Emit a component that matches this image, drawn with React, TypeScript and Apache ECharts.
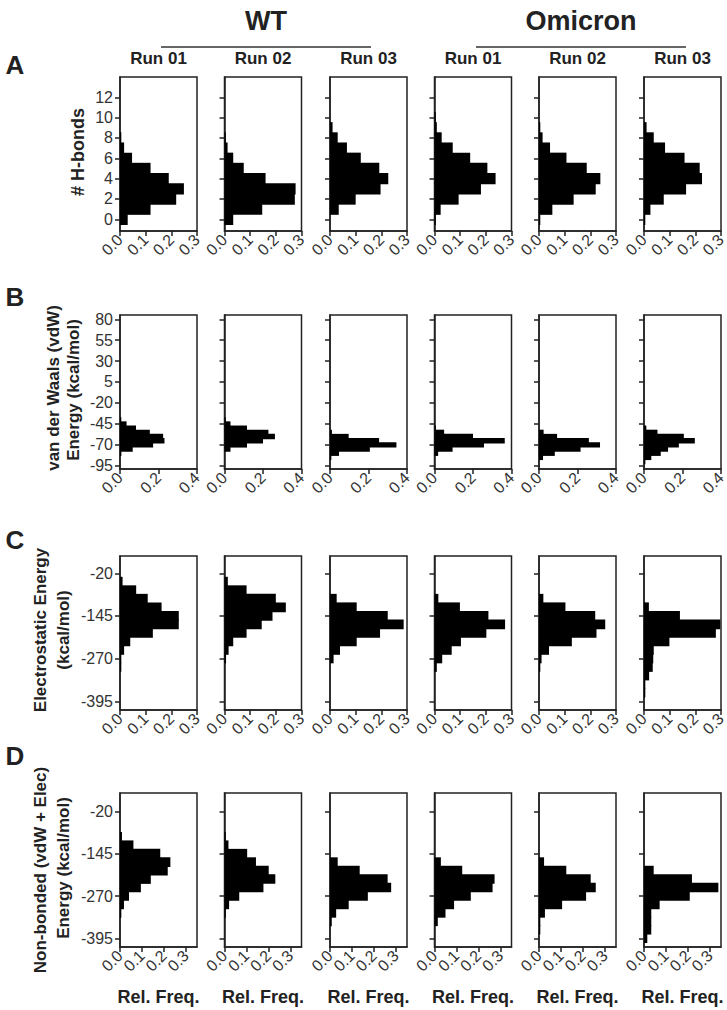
import React, { useEffect, useRef } from "react";
import * as echarts from "echarts";

// ---------- labels ----------
const GROUPS = ["WT", "Omicron"];
const RUNS = ["Run 01", "Run 02", "Run 03", "Run 01", "Run 02", "Run 03"];
const ROW_LETTERS = ["A", "B", "C", "D"];
const X_NAME = "Rel. Freq.";

// ---------- Row A: # H-bonds ----------
const HB_BINS = [0, 1, 2, 3, 4, 5, 6, 7, 8, 9, 10];
const HB_TICKS = [0, 2, 4, 6, 8, 10, 12];
const HB_WT1 = [0.030, 0.119, 0.219, 0.249, 0.190, 0.119, 0.047, 0.016, 0.003, 0, 0];
const HB_WT2 = [0.034, 0.147, 0.274, 0.277, 0.160, 0.075, 0.034, 0.012, 0.004, 0, 0];
const HB_WT3 = [0, 0.034, 0.100, 0.197, 0.227, 0.192, 0.120, 0.066, 0.030, 0.010, 0];
const HB_OM1 = [0.005, 0.024, 0.094, 0.181, 0.238, 0.206, 0.139, 0.071, 0.028, 0.009, 0.003];
const HB_OM2 = [0.004, 0.052, 0.135, 0.221, 0.239, 0.186, 0.107, 0.043, 0.014, 0.005, 0];
const HB_OM3 = [0.004, 0.025, 0.077, 0.164, 0.226, 0.217, 0.158, 0.082, 0.038, 0.010, 0];

// ---------- Row B: vdW energy ----------
const VDW_BINS = [-90.5, -85.5, -80.5, -75.5, -70.5, -65.5, -60.5, -55.5, -50.5, -45.5, -40.5];
const VDW_TICKS = [-95, -70, -45, -20, 5, 30, 55, 80];
const VDW_WT1 = [0, 0, 0.007, 0.066, 0.172, 0.231, 0.224, 0.155, 0.083, 0.034, 0.005];
const VDW_WT2 = [0, 0, 0, 0.031, 0.117, 0.200, 0.262, 0.228, 0.117, 0.031, 0.005];
const VDW_WT3 = [0, 0.007, 0.047, 0.207, 0.345, 0.255, 0.097, 0.010, 0, 0, 0];
const VDW_OM1 = [0, 0, 0.019, 0.094, 0.257, 0.365, 0.200, 0.050, 0.007, 0, 0];
const VDW_OM2 = [0, 0.021, 0.082, 0.216, 0.317, 0.259, 0.094, 0.024, 0, 0, 0];
const VDW_OM3 = [0.007, 0.038, 0.087, 0.125, 0.181, 0.264, 0.207, 0.070, 0.012, 0, 0];

// ---------- Row C / D: energy bins ----------
const EN_BINS = [-394.5, -369.5, -344.5, -319.5, -294.5, -269.5, -244.5, -219.5, -194.5, -169.5, -144.5, -119.5, -94.5, -69.5, -44.5];
const EN_TICKS = [-395, -270, -145, -20];

const EL_WT1 = [0, 0, 0, 0, 0.003, 0.004, 0.016, 0.040, 0.128, 0.229, 0.229, 0.162, 0.108, 0.063, 0.010];
const EL_WT2 = [0, 0, 0, 0, 0, 0.006, 0.016, 0.034, 0.086, 0.145, 0.187, 0.239, 0.200, 0.086, 0.013];
const EL_WT3 = [0, 0, 0, 0, 0, 0.014, 0.039, 0.104, 0.195, 0.287, 0.225, 0.104, 0.026, 0, 0];
const EL_OM1 = [0, 0, 0, 0, 0.009, 0.030, 0.067, 0.103, 0.202, 0.275, 0.210, 0.099, 0.015, 0, 0];
const EL_OM2 = [0, 0, 0, 0, 0.004, 0.010, 0.039, 0.128, 0.224, 0.258, 0.219, 0.103, 0.017, 0, 0];
const EL_OM3 = [0, 0.004, 0.005, 0.020, 0.034, 0.036, 0.038, 0.099, 0.280, 0.297, 0.140, 0.019, 0, 0, 0];

const NB_WT1 = [0, 0, 0, 0.006, 0.018, 0.041, 0.095, 0.140, 0.217, 0.229, 0.183, 0.061, 0.009, 0, 0];
const NB_WT2 = [0, 0, 0, 0.005, 0.021, 0.067, 0.177, 0.231, 0.201, 0.143, 0.103, 0.018, 0.005, 0, 0];
const NB_WT3 = [0, 0, 0.008, 0.028, 0.085, 0.172, 0.278, 0.262, 0.135, 0.035, 0, 0, 0, 0, 0];
const NB_OM1 = [0, 0, 0.015, 0.050, 0.089, 0.165, 0.264, 0.273, 0.126, 0.029, 0, 0, 0, 0, 0];
const NB_OM2 = [0, 0.004, 0.006, 0.027, 0.105, 0.214, 0.258, 0.235, 0.124, 0.023, 0, 0, 0, 0, 0];
const NB_OM3 = [0.015, 0.033, 0.033, 0.033, 0.071, 0.208, 0.338, 0.218, 0.044, 0, 0, 0, 0, 0, 0];

// ---------- x tick values ----------
const X_TICKS_03 = [0, 0.1, 0.2, 0.3];
const X_TICKS_04 = [0, 0.2, 0.4];

// ---------- layout (not data) ----------
const W = 727;
const H = 1010;
const COL_LEFT = [120, 224.5, 330, 434.5, 539, 644];
const ROW_TOP = [77, 315, 556, 793];
const PW = 77;
const PH = 154;
const FONT = '"Liberation Sans", Arial, Helvetica, sans-serif';
const INK = "#222";

type RowCfg = {
  bins: number[];
  binW: number;
  panels: number[][];
  yMin: number;
  yMax: number;
  yTicks: number[];
  xMax: number;
  xTicks: number[];
  splitLabels?: boolean; // labels crowd: spread over two coincident axes
};

const ROWS: RowCfg[] = [
  { bins: HB_BINS, binW: 1, panels: [HB_WT1, HB_WT2, HB_WT3, HB_OM1, HB_OM2, HB_OM3], yMin: -1.15, yMax: 14, yTicks: HB_TICKS, xMax: 0.3, xTicks: X_TICKS_03 },
  { bins: VDW_BINS, binW: 5, panels: [VDW_WT1, VDW_WT2, VDW_WT3, VDW_OM1, VDW_OM2, VDW_OM3], yMin: -99.4, yMax: 85.2, yTicks: VDW_TICKS, xMax: 0.4, xTicks: X_TICKS_04 },
  { bins: EN_BINS, binW: 25, panels: [EL_WT1, EL_WT2, EL_WT3, EL_OM1, EL_OM2, EL_OM3], yMin: -420.5, yMax: 30.7, yTicks: EN_TICKS, xMax: 0.3, xTicks: X_TICKS_03 },
  { bins: EN_BINS, binW: 25, panels: [NB_WT1, NB_WT2, NB_WT3, NB_OM1, NB_OM2, NB_OM3], yMin: -420.5, yMax: 35, yTicks: EN_TICKS, xMax: 0.35, xTicks: X_TICKS_03, splitLabels: true },
];

const makeRender = (bw: number) => (_params: any, api: any) => {
  const f = api.value(0);
  const c = api.value(1);
  const p0 = api.coord([0, c + bw / 2]);
  const p1 = api.coord([f, c - bw / 2]);
  return {
    type: "rect",
    shape: {
      x: p0[0],
      y: p0[1] - 0.6,
      width: Math.max(p1[0] - p0[0], 1.3),
      height: p1[1] - p0[1] + 1.2,
    },
    style: { fill: "#000" },
  };
};

function txt(text: string, x: number, y: number, size: number, opts: any = {}) {
  return {
    type: "text",
    x,
    y,
    rotation: opts.rotation || 0,
    silent: true,
    style: {
      text,
      fill: opts.fill || INK,
      fontSize: size,
      fontWeight: opts.weight || "bold",
      fontFamily: FONT,
      align: "center",
      verticalAlign: "middle",
      textAlign: "center",
      textVerticalAlign: "middle",
    },
  };
}

function xLabel(values: number[]) {
  return {
    show: true,
    rotate: 45,
    margin: 6,
    fontSize: 16,
    fontFamily: FONT,
    color: "#333",
    customValues: values,
    showMinLabel: true,
    showMaxLabel: true,
    hideOverlap: false,
    formatter: (v: number) => v.toFixed(1),
  };
}

function buildOption() {
  const grid: any[] = [];
  const xAxis: any[] = [];
  const yAxis: any[] = [];
  const series: any[] = [];
  ROWS.forEach((row, r) => {
    row.panels.forEach((vals, c) => {
      const gi = grid.length;
      grid.push({
        left: COL_LEFT[c],
        top: ROW_TOP[r],
        width: PW,
        height: PH,
        show: true,
        borderColor: INK,
        borderWidth: 1.5,
        backgroundColor: "transparent",
        containLabel: false,
        outerBoundsMode: "none",
      });
      const labelsMain = row.splitLabels ? row.xTicks.filter((_, i) => i % 2 === 0) : row.xTicks;
      const xi = xAxis.length;
      xAxis.push({
        type: "value",
        gridIndex: gi,
        position: "bottom",
        min: 0,
        max: row.xMax,
        splitLine: { show: false },
        axisLine: { show: true, onZero: false, lineStyle: { color: INK, width: 1.5 } },
        axisTick: { show: true, length: 5, inside: false, customValues: row.xTicks, lineStyle: { color: INK, width: 1.5 } },
        axisLabel: xLabel(labelsMain),
      });
      if (row.splitLabels) {
        xAxis.push({
          type: "value",
          gridIndex: gi,
          position: "bottom",
          offset: 0,
          min: 0,
          max: row.xMax,
          splitLine: { show: false },
          axisLine: { show: false, onZero: false },
          axisTick: { show: false },
          axisLabel: xLabel(row.xTicks.filter((_, i) => i % 2 === 1)),
        });
      }
      yAxis.push({
        type: "value",
        gridIndex: gi,
        min: row.yMin,
        max: row.yMax,
        splitLine: { show: false },
        axisLine: { show: true, onZero: false, lineStyle: { color: INK, width: 1.5 } },
        axisTick: { show: true, length: 5, inside: false, customValues: row.yTicks, lineStyle: { color: INK, width: 1.5 } },
        axisLabel: {
          show: c === 0,
          margin: 7,
          fontSize: 16,
          fontFamily: FONT,
          color: "#333",
          customValues: row.yTicks,
          showMinLabel: true,
          showMaxLabel: true,
          hideOverlap: false,
        },
      });
      const data = vals
        .map((f, i) => [f, row.bins[i]])
        .filter((d) => d[0] > 0);
      series.push({
        type: "custom",
        xAxisIndex: xi,
        yAxisIndex: gi,
        renderItem: makeRender(row.binW),
        data,
        silent: true,
      });
    });
  });

  const graphics: any[] = [];
  graphics.push(txt(GROUPS[0], 266, 21, 27));
  graphics.push(txt(GROUPS[1], 581, 21, 27));
  graphics.push({ type: "line", shape: { x1: 161, y1: 47, x2: 371, y2: 47 }, style: { stroke: "#333", lineWidth: 1.5 } });
  graphics.push({ type: "line", shape: { x1: 476, y1: 47, x2: 686, y2: 47 }, style: { stroke: "#333", lineWidth: 1.5 } });
  RUNS.forEach((r, c) => graphics.push(txt(r, COL_LEFT[c] + PW / 2, 58, 17)));
  const letterY = [65, 297, 540, 756];
  ROW_LETTERS.forEach((l, i) => graphics.push(txt(l, 15, letterY[i], 26)));
  const rot = Math.PI / 2;
  graphics.push(txt("# H-bonds", 78, 152, 18, { rotation: rot }));
  graphics.push(txt("van der Waals (vdW)", 53, 388, 17, { rotation: rot }));
  graphics.push(txt("Energy (kcal/mol)", 73, 390, 17, { rotation: rot }));
  graphics.push(txt("Electrostatic Energy", 40, 630, 17, { rotation: rot }));
  graphics.push(txt("(kcal/mol)", 63, 630, 17, { rotation: rot }));
  graphics.push(txt("Non-bonded (vdW + Elec)", 40, 870, 17, { rotation: rot }));
  graphics.push(txt("Energy (kcal/mol)", 63, 868, 17, { rotation: rot }));
  COL_LEFT.forEach((l) => graphics.push(txt(X_NAME, l + PW / 2, 997, 18)));

  return {
    animation: false,
    backgroundColor: "#fff",
    grid,
    xAxis,
    yAxis,
    series,
    graphic: { elements: graphics },
  };
}

export default function App() {
  const ref = useRef<HTMLDivElement>(null);
  useEffect(() => {
    document.body.style.margin = "0";
    if (!ref.current) return;
    const chart = echarts.init(ref.current, undefined, { renderer: "svg", width: W, height: H });
    chart.setOption(buildOption() as any);
    return () => chart.dispose();
  }, []);
  return <div ref={ref} style={{ position: "absolute", left: 0, top: 0, width: W, height: H, background: "#fff" }} />;
}
